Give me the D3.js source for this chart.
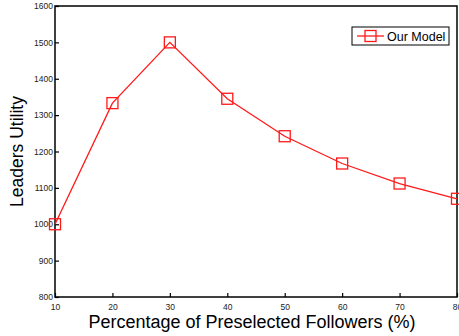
<!DOCTYPE html>
<html>
<head>
<meta charset="utf-8">
<script src="https://cdn.jsdelivr.net/npm/d3@7/dist/d3.min.js"></script>
<style>
  html, body { margin: 0; padding: 0; background: #fff; }
  svg { display: block; font-family: "Liberation Sans", Arial, Helvetica, sans-serif; }
</style>
</head>
<body>
<svg id="chart" width="459" height="336"></svg>
<script>
// Leaders' utility as a function of the share of preselected followers
const percentages = [10, 20, 30, 40, 50, 60, 70, 80];
const utility = [1000, 1333, 1500, 1345, 1242, 1167, 1112, 1070];
const xTicks = [10, 20, 30, 40, 50, 60, 70, 80];
const yTicks = [800, 900, 1000, 1100, 1200, 1300, 1400, 1500, 1600];
const seriesName = "Our Model";

const svg = d3.select("#chart");
const plot = { left: 55, right: 457, top: 6, bottom: 297 };
const red = "#ff1a1a";

const x = d3.scaleLinear().domain([10, 80]).range([plot.left, plot.right]);
const y = d3.scaleLinear().domain([800, 1600]).range([plot.bottom, plot.top]);

// Axes with inward ticks
const xAxis = svg.append("g")
  .attr("transform", `translate(0,${plot.bottom})`)
  .call(d3.axisBottom(x).tickValues(xTicks).tickFormat(d3.format("d"))
    .tickSizeInner(-4).tickSizeOuter(0).tickPadding(7));
const yAxis = svg.append("g")
  .attr("transform", `translate(${plot.left},0)`)
  .call(d3.axisLeft(y).tickValues(yTicks).tickFormat(d3.format("d"))
    .tickSizeInner(-4).tickSizeOuter(0).tickPadding(2));

[xAxis, yAxis].forEach(g => {
  g.select(".domain").remove();
  g.selectAll(".tick line").attr("stroke", "#000").attr("stroke-width", 1.2);
  g.selectAll(".tick text").attr("fill", "#222").style("font-size", "8.5px");
});

// Plot frame
svg.append("rect")
  .attr("x", plot.left).attr("y", plot.top)
  .attr("width", plot.right - plot.left).attr("height", plot.bottom - plot.top)
  .attr("fill", "none").attr("stroke", "#000").attr("stroke-width", 1.5);

// Series line
const line = d3.line().x((d, i) => x(percentages[i])).y(d => y(d));
svg.append("path")
  .datum(utility)
  .attr("d", line)
  .attr("fill", "none")
  .attr("stroke", red)
  .attr("stroke-width", 1.3);

// Square markers
const m = 11;
svg.selectAll("rect.marker")
  .data(utility)
  .join("rect")
  .attr("class", "marker")
  .attr("x", (d, i) => x(percentages[i]) - m / 2)
  .attr("y", d => y(d) - m / 2)
  .attr("width", m).attr("height", m)
  .attr("fill", "none")
  .attr("stroke", red)
  .attr("stroke-width", 1.3);

// Legend
const lg = svg.append("g").attr("transform", "translate(352,27)");
lg.append("rect").attr("width", 97).attr("height", 18)
  .attr("fill", "#fff").attr("stroke", "#000").attr("stroke-width", 1);
lg.append("line").attr("x1", 5).attr("x2", 32).attr("y1", 9).attr("y2", 9)
  .attr("stroke", red).attr("stroke-width", 1.3);
lg.append("rect").attr("x", 18.5 - m / 2).attr("y", 9 - m / 2).attr("width", m).attr("height", m)
  .attr("fill", "none").attr("stroke", red).attr("stroke-width", 1.3);
lg.append("text").attr("x", 35).attr("y", 13.5).text(seriesName)
  .style("font-size", "12.5px").attr("fill", "#000");

// Axis titles
svg.append("text")
  .attr("x", 252).attr("y", 328)
  .attr("text-anchor", "middle")
  .style("font-size", "18px")
  .text("Percentage of Preselected Followers (%)");
svg.append("text")
  .attr("transform", `translate(23,${(plot.top + plot.bottom) / 2}) rotate(-90)`)
  .attr("text-anchor", "middle")
  .style("font-size", "17.5px")
  .text("Leaders Utility");
</script>
</body>
</html>
